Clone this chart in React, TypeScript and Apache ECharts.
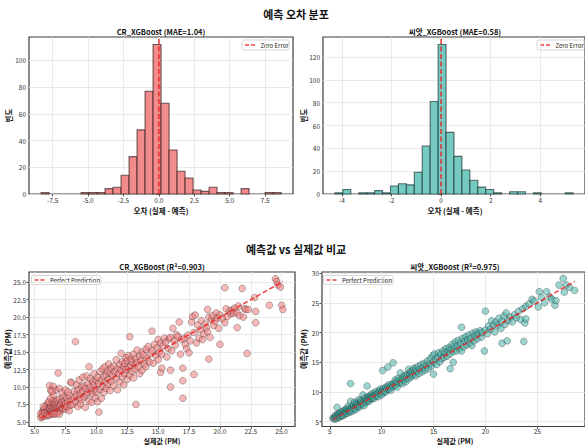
import React, { useEffect, useRef } from 'react';
import * as echarts from 'echarts';

const FONT = '"Noto Sans CJK KR", "Noto Sans", sans-serif';

// ---------- Histogram data (error = actual - predicted) ----------
const crBinStart = -8.32;
const crBinWidth = 0.565;
const crCounts = [1, 0, 0, 0, 0, 1, 1, 1, 4, 5, 14, 28, 48, 77, 112, 68, 33, 17, 12, 3, 2, 5, 1, 1, 0, 4, 0, 0, 1, 1];

const seedBinStart = -4.28;
const seedBinWidth = 0.32;
const seedCounts = [1, 4, 0, 1, 1, 3, 1, 7, 9, 8, 19, 42, 81, 131, 54, 33, 21, 12, 6, 4, 1, 0, 2, 2, 0, 1, 0, 0, 0, 1];

// ---------- Tick labels ----------
const crErrTicks = [-7.5, -5.0, -2.5, 0.0, 2.5, 5.0, 7.5];
const crCountTicks = [0, 20, 40, 60, 80, 100];
const seedErrTicks = [-4, -2, 0, 2, 4];
const seedCountTicks = [0, 20, 40, 60, 80, 100, 120];
const crPmTicks = [5.0, 7.5, 10.0, 12.5, 15.0, 17.5, 20.0, 22.5, 25.0];
const seedPmTicks = [5, 10, 15, 20, 25, 30];

// ---------- Scatter data: [actual, predicted] ----------
const crPoints: number[][] = [
  [5.5,5.6],[5.6,6.0],[5.6,6.4],[5.7,5.8],[5.7,6.7],[5.8,6.1],[5.8,6.9],[5.9,5.9],[5.9,6.5],[5.9,7.2],
  [6.0,6.2],[6.0,6.8],[6.0,7.5],[6.1,6.0],[6.1,6.6],[6.1,7.0],[6.2,6.3],[6.2,7.8],[6.2,6.9],[6.3,6.1],
  [6.3,6.6],[6.3,7.3],[6.4,6.4],[6.4,7.0],[6.4,8.0],[6.5,6.2],[6.5,6.8],[6.5,7.6],[6.6,6.5],[6.6,7.1],
  [6.6,7.9],[6.7,6.3],[6.7,6.9],[6.7,7.4],[6.8,6.6],[6.8,7.2],[6.8,8.1],[6.9,6.4],[6.9,7.0],[6.9,7.7],
  [7.0,6.8],[7.0,7.3],[7.0,8.3],[7.1,6.6],[7.1,7.5],[7.2,7.0],[7.2,7.9],[7.3,6.9],[7.3,8.6],[7.4,7.3],
  [7.4,8.0],[7.5,6.8],[7.5,7.6],[7.6,7.2],[7.6,8.4],[7.7,7.9],[7.8,6.6],[7.8,8.8],[7.9,7.4],[8.0,8.2],
  [5.5,6.2],[5.6,5.7],[5.8,6.3],[6.0,5.9],[6.2,6.0],[6.4,6.2],[6.6,6.1],[6.8,6.2],[7.0,6.1],[5.7,7.2],
  [6.1,7.9],[6.3,8.4],[6.5,8.9],[6.7,9.6],[6.2,10.2],[6.3,9.5],[6.5,10.1],[6.4,9.4],[7.0,9.8],[7.2,9.2],
  [6.9,12.0],[7.5,9.6],[7.7,9.3],[7.9,10.7],[8.0,10.6],[8.3,16.5],
  [8.1,7.5],[8.2,8.5],[8.2,9.4],[8.3,7.9],[8.4,8.9],[8.4,10.3],[8.5,7.2],[8.5,9.6],[8.6,8.4],[8.6,11.0],
  [8.7,9.0],[8.7,7.6],[8.8,10.0],[8.8,8.2],[8.9,9.4],[8.9,11.4],[9.0,8.6],[9.0,10.2],[9.1,7.1],[9.1,9.8],
  [9.2,11.6],[9.2,8.9],[9.3,10.5],[9.3,9.2],[9.4,12.9],[9.4,8.0],[9.5,10.0],[9.5,11.2],[9.6,9.5],[9.6,7.8],
  [9.7,10.8],[9.7,9.0],[9.8,11.9],[9.8,10.3],[9.9,9.7],[9.9,8.5],[10.0,10.9],[10.0,9.3],[10.1,11.4],[10.1,7.9],
  [10.2,6.4],[10.2,10.5],[10.3,12.2],[10.3,9.6],[10.4,11.0],[10.4,8.4],[10.5,12.6],[10.5,10.1],[10.6,11.5],[10.6,9.2],
  [10.7,12.9],[10.7,10.7],[10.8,11.8],[10.8,9.8],[10.9,12.3],[10.9,10.4],[11.0,13.3],[11.0,11.1],[11.1,12.0],[11.1,9.5],
  [11.2,12.7],[11.2,10.8],[11.3,11.6],[11.4,13.0],[11.4,10.2],[11.5,12.2],[11.6,11.3],[11.6,13.9],[11.7,12.6],[11.7,9.6],
  [11.8,11.9],[11.9,13.2],[11.9,10.7],[12.0,12.4],[12.0,14.8],[12.1,11.5],[12.1,13.6],[12.2,12.9],[12.2,10.3],[12.3,13.4],
  [12.3,11.9],[12.4,14.2],[12.4,12.5],[12.5,11.1],[12.5,13.8],[12.6,12.8],[12.6,14.5],[12.7,17.2],[12.7,11.7],[12.8,13.1],
  [12.8,14.0],[12.9,12.2],[12.9,13.6],[13.0,14.7],[13.0,11.3],[13.1,13.2],[13.1,12.6],[13.2,14.1],[13.2,7.5],[13.3,13.5],
  [13.3,15.3],[13.4,12.9],[13.5,14.4],[13.5,11.9],[13.6,13.8],[13.7,15.0],[13.7,12.4],[13.8,14.6],[13.9,13.3],[14.0,15.4],
  [14.0,12.9],[14.1,14.1],[14.2,15.8],[14.3,13.6],[14.4,14.8],[14.5,18.0],[14.5,15.2],[14.6,13.4],[14.7,16.1],[14.8,14.5],
  [14.9,15.6],[15.0,13.9],[15.0,16.8],[15.1,15.0],[15.2,12.1],[15.2,16.3],[15.3,12.7],[15.3,14.7],[15.4,15.9],[15.5,17.0],
  [15.6,16.4],[15.7,14.3],[15.8,15.5],[15.9,16.9],[16.0,10.0],[16.0,12.4],[16.0,17.1],[16.1,15.2],[16.2,18.4],[16.3,16.6],
  [16.4,16.0],[16.5,17.5],[16.6,17.2],[16.7,19.3],[16.8,14.7],[16.9,16.8],[17.0,8.4],[17.0,10.9],[17.0,12.7],[17.1,17.0],
  [17.2,16.1],[17.3,15.5],[17.4,17.4],[17.5,14.9],[17.6,16.6],
  [17.7,19.3],[17.8,20.1],[17.9,11.8],[17.9,17.8],[18.0,20.3],[18.1,16.3],[18.2,18.9],[18.3,17.0],[18.4,18.2],[18.5,19.5],
  [18.6,16.8],[18.7,17.6],[18.8,19.0],[18.9,18.5],[19.0,21.1],[19.0,17.9],[19.1,14.0],[19.1,20.0],[19.2,17.1],[19.3,19.6],
  [19.4,20.2],[19.5,18.8],[19.6,19.4],[19.7,20.6],[19.8,19.9],[19.9,18.4],[20.0,16.1],[20.0,20.3],[20.2,19.8],[20.4,24.2],
  [20.4,19.2],[20.5,21.2],[20.6,20.1],[20.8,20.9],[20.9,20.5],[21.0,21.0],[21.1,20.6],[21.2,21.3],[21.4,18.5],[21.4,20.6],
  [21.5,21.6],[21.6,20.2],[21.8,24.1],[21.9,20.0],[22.0,21.2],[22.1,21.1],[22.2,14.8],[22.3,21.1],[22.8,22.8],[22.9,20.8],
  [22.9,19.2],[24.0,21.7],[24.5,25.5],[24.6,25.1],[24.7,24.6],[24.9,24.3],[25.0,21.7],[25.1,21.1]
];

const seedPoints: number[][] = [
  [5.3,5.6],[5.4,5.5],[5.5,5.9],[5.5,5.4],[5.6,5.7],[5.6,6.1],[5.7,5.6],[5.7,7.4],[5.8,5.9],[5.8,6.3],
  [5.9,5.7],[5.9,6.2],[6.0,6.0],[6.0,6.5],[6.1,5.9],[6.1,6.4],[6.2,6.1],[6.2,6.7],[6.3,6.2],[6.3,6.0],
  [6.4,6.5],[6.4,6.9],[6.5,6.3],[6.5,6.8],[6.6,6.6],[6.6,7.2],[6.7,6.4],[6.7,7.0],[6.8,6.8],[6.8,7.6],
  [6.9,6.7],[6.9,7.1],[7.0,11.4],[7.0,8.4],[7.0,7.0],[7.0,6.6],[7.1,7.3],[7.2,7.1],[7.2,6.8],[7.3,7.5],
  [7.3,7.9],[7.4,7.2],[7.4,8.3],[7.5,7.6],[7.5,7.0],[7.6,7.8],[7.6,8.1],[7.7,7.4],[7.7,7.9],[7.8,8.7],
  [7.8,7.7],[7.9,8.0],[7.9,7.5],[8.0,8.2],[8.0,8.6],[8.1,7.9],[8.1,8.4],[8.2,8.1],[8.2,9.5],[8.3,8.3],
  [8.3,7.7],[8.4,8.6],[8.4,9.0],[8.5,8.2],[8.5,8.8],[8.6,11.0],[8.6,8.5],[8.7,9.2],[8.7,8.7],[8.8,8.4],
  [8.8,9.0],[8.9,9.3],[8.9,8.8],[9.0,9.1],[9.0,9.6],[9.1,8.9],[9.1,9.3],[9.2,9.8],[9.2,9.1],[9.3,9.4],
  [9.3,8.9],[9.4,9.7],[9.5,9.3],[9.5,10.1],[9.6,9.6],[9.7,9.9],[9.7,9.2],[9.8,10.2],[9.9,9.7],[9.9,10.5],
  [10.0,10.0],[10.0,9.5],[10.1,13.6],[10.1,10.3],[10.2,10.6],[10.2,9.9],[10.3,10.2],[10.4,10.8],[10.4,10.0],[10.5,10.5],
  [10.6,14.2],[10.6,10.9],[10.7,10.4],[10.7,11.2],[10.8,10.7],[10.9,11.0],[10.9,10.3],[11.0,11.3],[11.1,14.9],[11.1,10.9],
  [11.2,11.5],[11.3,11.1],[11.3,12.0],[11.4,11.4],[11.5,10.8],[11.5,11.8],[11.6,12.3],[11.7,11.5],[11.8,12.0],[11.8,13.2],
  [11.9,11.7],[12.0,12.2],[12.0,11.4],[12.1,12.6],[12.2,12.1],[12.3,12.8],[12.3,11.7],[12.4,12.4],[12.5,13.0],[12.6,13.8],
  [12.6,12.2],[12.7,12.9],[12.8,13.4],[12.8,12.5],[12.9,13.1],[13.0,12.8],[13.0,13.6],[13.1,14.0],[13.2,13.2],[13.3,12.7],
  [13.3,13.9],[13.4,13.5],[13.5,14.3],[13.6,13.1],[13.7,13.8],[13.8,14.6],[13.9,13.4],[14.0,14.1],[14.1,14.8],[14.2,13.7],
  [14.3,14.4],[14.4,15.2],[14.5,13.9],[14.6,14.7],[14.7,15.6],[14.8,14.3],[14.9,16.1],[15.0,13.0],[15.0,15.0],[15.1,16.4],
  [15.2,15.4],[15.3,14.6],[15.4,15.9],[15.5,16.6],[15.6,15.1],[15.7,16.3],[15.8,15.6],[15.9,16.9],[16.0,15.8],[16.1,16.6],
  [16.2,17.3],[16.3,16.0],[16.4,16.9],[16.5,17.5],[16.6,13.9],[16.6,16.4],[16.7,17.2],[16.8,18.0],[16.9,15.0],[16.9,16.8],
  [17.0,17.6],[17.1,18.4],[17.2,16.9],[17.3,17.8],[17.4,18.7],[17.5,17.3],[17.6,18.2],[17.7,20.9],[17.7,16.9],[17.8,19.0],
  [17.9,17.6],[18.0,18.5],[18.1,19.3],[18.2,17.9],[18.3,18.8],[18.4,19.6],[18.5,18.2],[18.6,19.1],[18.7,17.8],[18.8,19.9],
  [18.9,18.6],[19.0,19.4],[19.1,20.1],[19.2,18.9],[19.3,19.8],[19.5,20.3],[19.6,19.2],[19.7,20.0],[19.9,16.9],[20.0,23.6],
  [20.0,20.4],[20.2,19.8],[20.3,21.1],[20.5,20.6],[20.6,22.0],[20.8,21.3],[20.9,20.1],[21.0,21.8],[21.2,21.2],[21.3,22.4],
  [21.5,20.7],[21.6,18.2],[21.6,21.9],[21.8,22.8],[21.9,21.4],[22.0,23.3],[22.1,18.6],[22.2,22.0],[22.4,22.6],[22.6,21.8],
  [22.8,23.0],[23.0,22.5],[23.2,23.6],[23.4,22.2],[23.6,24.0],[23.7,18.5],[23.8,21.6],[23.9,22.3],[23.9,24.4],[24.2,24.8],
  [24.5,25.6],[24.7,25.3],[25.1,24.3],[25.2,26.9],[25.4,25.9],[25.7,25.0],[25.9,26.9],[26.2,26.0],[26.4,25.6],[26.7,24.6],
  [26.8,25.4],[27.1,28.0],[27.5,29.1],[27.6,26.8],[27.8,28.0],[28.1,27.6],[28.6,27.1]
];

const RED_LINE = 'rgba(238,30,30,0.85)';
const DASH = [5, 2.5];

function histSeries(start: number, width: number, counts: number[], idx: number, fill: string, stroke: string) {
  const data = counts
    .map((c, i) => [start + i * width, start + (i + 1) * width, c])
    .filter((d) => d[2] > 0);
  return {
    type: 'custom',
    xAxisIndex: idx,
    yAxisIndex: idx,
    data,
    encode: { x: [0, 1], y: 2 },
    z: 2,
    renderItem: (_params: any, api: any) => {
      const p0 = api.coord([api.value(0), api.value(2)]);
      const p1 = api.coord([api.value(1), 0]);
      return {
        type: 'rect',
        shape: { x: p0[0], y: p0[1], width: p1[0] - p0[0], height: p1[1] - p0[1] },
        style: { fill, stroke, lineWidth: 1.1 },
      };
    },
  };
}

function valAxis(idx: number, min: number, max: number, ticks: number[], fmt: (v: number) => string, margin = 3) {
  return {
    type: 'value',
    gridIndex: idx,
    min,
    max,
    axisLine: { show: false },
    axisTick: { show: true, length: 2.5, lineStyle: { color: '#333', width: 0.8 }, customValues: ticks },
    axisLabel: { customValues: ticks, formatter: fmt, fontSize: 6.5, color: '#333', margin, fontFamily: FONT },
    splitLine: { show: true, lineStyle: { color: '#e4e4e4', width: 0.8 } },
  };
}

const f1 = (v: number) => v.toFixed(1);
const f0 = (v: number) => String(Math.round(v));

function gridBox(left: number, top: number, width: number, height: number) {
  return { left, top, width, height, show: true, borderColor: '#3c3c3c', borderWidth: 1.2, backgroundColor: 'transparent' };
}

function txt(text: string, x: number, y: number, size: number, rotate = 0, weight = 'bold', align = 'center') {
  return {
    type: 'text',
    x,
    y,
    rotation: rotate,
    z: 100,
    style: {
      text,
      font: `${weight} ${size}px ${FONT}`,
      fill: '#111',
      align,
      verticalAlign: 'middle',
    },
  };
}

function legendGraphic(x: number, y: number, w: number, h: number, label: string) {
  const cy = y + h / 2;
  return {
    type: 'group',
    z: 100,
    children: [
      {
        type: 'rect',
        shape: { x, y, width: w, height: h, r: 1.5 },
        style: { fill: 'rgba(255,255,255,0.85)', stroke: '#cccccc', lineWidth: 0.8 },
      },
      {
        type: 'line',
        shape: { x1: x + 3, y1: cy, x2: x + 15, y2: cy },
        style: { stroke: RED_LINE, lineWidth: 1.5, lineDash: [4, 2] },
      },
      {
        type: 'text',
        x: x + 18.5,
        y: cy,
        style: { text: label, font: `normal 6px ${FONT}`, fill: '#222', align: 'left', verticalAlign: 'middle' },
      },
    ],
  };
}

export default function App() {
  const ref = useRef<HTMLDivElement>(null);
  useEffect(() => {
    if (!ref.current) return;
    const chart = echarts.init(ref.current, null, { renderer: 'svg' });
    const crMin = Math.min(...crPoints.map((p) => p[0]));
    const crMax = Math.max(...crPoints.map((p) => p[0]));
    const sdMin = Math.min(...seedPoints.map((p) => p[0]));
    const sdMax = Math.max(...seedPoints.map((p) => p[0]));

    const option: any = {
      animation: false,
      backgroundColor: '#ffffff',
      textStyle: { fontFamily: FONT },
      grid: [
        gridBox(29, 37, 264, 157),
        gridBox(323, 37, 265, 157),
        gridBox(29, 272, 266, 154.5),
        gridBox(322, 272, 266, 154.5),
      ],
      xAxis: [
        valAxis(0, -9.17, 9.47, crErrTicks, f1),
        valAxis(1, -4.76, 5.8, seedErrTicks, f0),
        valAxis(2, 4.54, 26.08, crPmTicks, f1, 1),
        valAxis(3, 4.25, 29.6, seedPmTicks, f0, 1),
      ],
      yAxis: [
        valAxis(0, 0, 117.6, crCountTicks, f0),
        valAxis(1, 0, 137.55, seedCountTicks, f0),
        valAxis(2, 4.35, 26.46, crPmTicks, f1),
        valAxis(3, 4.17, 30.2, seedPmTicks, f0),
      ],
      series: [
        histSeries(crBinStart, crBinWidth, crCounts, 0, '#f28b8b', 'rgba(40,20,20,0.65)'),
        histSeries(seedBinStart, seedBinWidth, seedCounts, 1, '#74c9c1', 'rgba(20,40,40,0.65)'),
        {
          type: 'line', name: 'Zero Error', xAxisIndex: 0, yAxisIndex: 0,
          data: [[0, 0], [0, 117.6]], symbol: 'none', z: 5,
          lineStyle: { color: RED_LINE, width: 1.6, type: DASH },
        },
        {
          type: 'line', name: 'Zero Error', xAxisIndex: 1, yAxisIndex: 1,
          data: [[0, 0], [0, 137.55]], symbol: 'none', z: 5,
          lineStyle: { color: RED_LINE, width: 1.6, type: DASH },
        },
        {
          type: 'scatter', xAxisIndex: 2, yAxisIndex: 2, data: crPoints, symbolSize: 6.8, z: 2,
          itemStyle: { color: 'rgba(240,128,128,0.7)', borderColor: 'rgba(0,0,0,0.55)', borderWidth: 0.6 },
        },
        {
          type: 'scatter', xAxisIndex: 3, yAxisIndex: 3, data: seedPoints, symbolSize: 6.8, z: 2,
          itemStyle: { color: 'rgba(78,178,170,0.7)', borderColor: 'rgba(0,0,0,0.55)', borderWidth: 0.6 },
        },
        {
          type: 'line', name: 'Perfect Prediction', xAxisIndex: 2, yAxisIndex: 2,
          data: [[crMin, crMin], [crMax, crMax]], symbol: 'none', z: 5,
          lineStyle: { color: RED_LINE, width: 1.5, type: DASH },
        },
        {
          type: 'line', name: 'Perfect Prediction', xAxisIndex: 3, yAxisIndex: 3,
          data: [[sdMin, sdMin], [sdMax, sdMax]], symbol: 'none', z: 5,
          lineStyle: { color: RED_LINE, width: 1.5, type: DASH },
        },
      ],
      graphic: [
        txt('예측 오차 분포', 296, 14, 11),
        txt('예측값 vs 실제값 비교', 296, 249, 11),
        txt('CR_XGBoost (MAE=1.04)', 161, 31.5, 7.5),
        txt('씨앗_XGBoost (MAE=0.58)', 455, 31.5, 7.5),
        txt('CR_XGBoost (R²=0.903)', 162, 266, 7.5),
        txt('씨앗_XGBoost (R²=0.975)', 455, 266, 7.5),
        txt('오차 (실제 - 예측)', 161, 210.5, 7.5),
        txt('오차 (실제 - 예측)', 455, 210.5, 7.5),
        txt('실제값 (PM)', 162, 441, 7),
        txt('실제값 (PM)', 455, 441, 7),
        txt('빈도', 8.5, 115.5, 7.5, Math.PI / 2),
        txt('빈도', 303, 115.5, 7.5, Math.PI / 2),
        txt('예측값 (PM)', 7.5, 349, 7.5, Math.PI / 2),
        txt('예측값 (PM)', 303, 349, 7.5, Math.PI / 2),
        legendGraphic(242, 40, 47, 10, 'Zero Error'),
        legendGraphic(537, 40, 47, 10, 'Zero Error'),
        legendGraphic(31.5, 275.5, 69.5, 9, 'Perfect Prediction'),
        legendGraphic(323.5, 275.5, 69.5, 9, 'Perfect Prediction'),
      ],
    };
    chart.setOption(option);
    return () => chart.dispose();
  }, []);
  return <div ref={ref} style={{ position: 'absolute', left: 0, top: 0, width: 585, height: 446 }} />;
}
